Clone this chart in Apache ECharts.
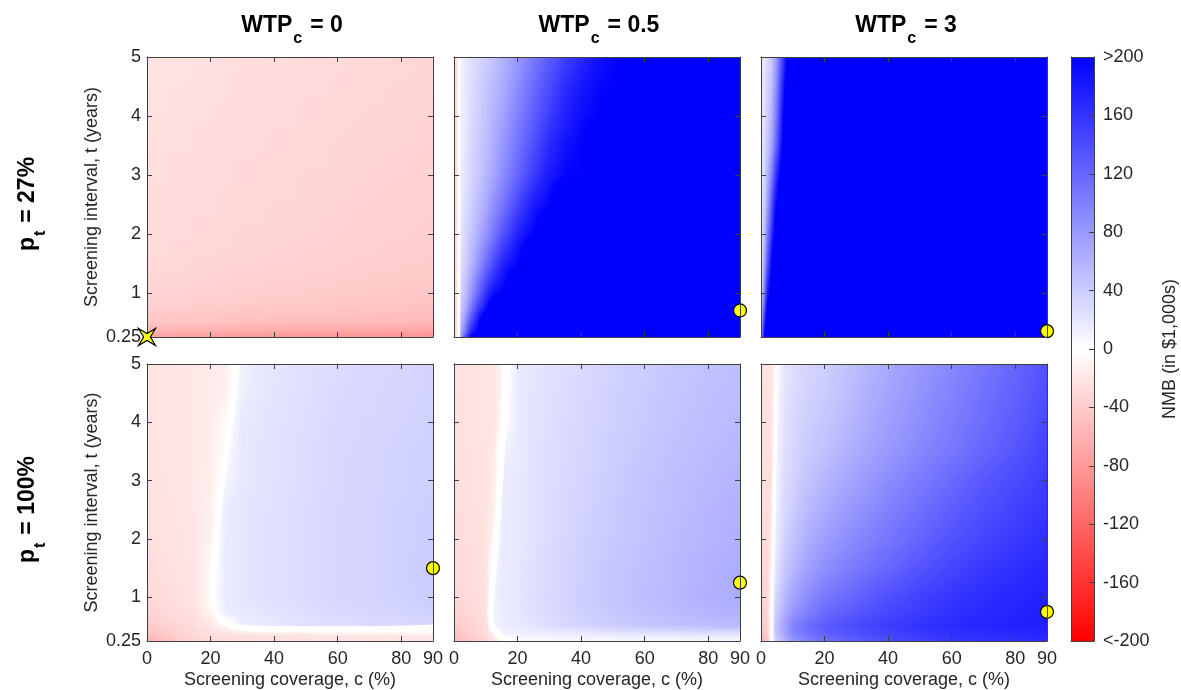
<!DOCTYPE html>
<html>
<head>
<meta charset="utf-8">
<script src="https://cdn.jsdelivr.net/npm/echarts@6/dist/echarts.min.js"></script>
<style>html,body{margin:0;padding:0;background:#fff}#chart{width:1181px;height:690px}</style>
</head>
<body>
<div id="chart"></div>
<script>
// ---------------- data ----------------
const coverage = [0,1,2,3,4,5,7.5,10,12.5,15,20,25,30,35,40,45,50,55,60,70,80,90];   // c (%)
const interval = [0.25,0.35,0.5,0.75,1,1.5,2,2.5,3,3.5,4,4.5,5];                    // t (years)
const xTicks = [0,20,40,60,80,90];
const yTicks = [0.25,1,2,3,4,5];
const colorbarMin = -200, colorbarMax = 200, colorbarStep = 40;
const nmbColors = ['#ff0000','#ffffff','#0000ff'];
const wtpValues = ['0','0.5','3'];
const ptValues = ['27%','100%'];

// NMB (in $1,000s) sampled at (coverage, interval); rows follow `interval`, columns follow `coverage`; 250 = ">200"
const nmbP27W0 = [
 [-74,-74,-75,-75,-75,-76,-76,-77,-77,-78,-79,-80,-81,-82,-83,-84,-85,-85,-86,-87,-88,-89],
 [-58,-58,-58,-59,-59,-59,-60,-60,-61,-61,-62,-63,-64,-65,-66,-66,-67,-67,-68,-69,-70,-71],
 [-45,-45,-45,-45,-46,-46,-46,-47,-47,-47,-48,-49,-50,-50,-51,-52,-52,-53,-53,-54,-55,-56],
 [-38,-38,-38,-38,-38,-38,-39,-39,-39,-40,-40,-41,-42,-42,-43,-43,-44,-44,-45,-46,-47,-48],
 [-34,-34,-34,-34,-34,-34,-35,-35,-35,-36,-36,-37,-38,-38,-39,-39,-40,-40,-41,-42,-43,-44],
 [-30,-30,-30,-30,-30,-30,-31,-31,-31,-32,-32,-33,-34,-34,-35,-35,-36,-36,-37,-38,-39,-40],
 [-28,-28,-28,-28,-28,-28,-29,-29,-29,-30,-30,-31,-32,-32,-33,-33,-34,-34,-35,-36,-37,-38],
 [-27,-27,-27,-27,-27,-27,-28,-28,-28,-29,-29,-30,-31,-31,-32,-32,-33,-33,-34,-35,-36,-37],
 [-26,-26,-26,-26,-26,-26,-27,-27,-27,-28,-28,-29,-30,-30,-31,-31,-32,-32,-33,-34,-35,-36],
 [-25,-25,-25,-25,-25,-25,-26,-26,-26,-27,-27,-28,-29,-29,-30,-30,-31,-31,-32,-33,-34,-35],
 [-24,-24,-24,-24,-24,-24,-25,-25,-25,-26,-26,-27,-28,-28,-29,-29,-30,-30,-31,-32,-33,-34],
 [-23,-23,-23,-23,-23,-23,-24,-24,-24,-25,-25,-26,-27,-27,-28,-28,-29,-29,-30,-31,-32,-33],
 [-22,-22,-22,-22,-22,-22,-23,-23,-23,-24,-24,-25,-26,-26,-27,-27,-28,-28,-29,-30,-31,-32]
];
const nmbP27W05 = [
 [-30,-25,74,118,160,188,250,250,250,250,250,250,250,250,250,250,250,250,250,250,250,250],
 [-30,-25,60,92,125,160,200,250,250,250,250,250,250,250,250,250,250,250,250,250,250,250],
 [-30,-25,49,74,103,132,188,250,250,250,250,250,250,250,250,250,250,250,250,250,250,250],
 [-30,-25,40,56,74,97,150,188,250,250,250,250,250,250,250,250,250,250,250,250,250,250],
 [-30,-25,32,45,60,74,118,160,188,200,250,250,250,250,250,250,250,250,250,250,250,250],
 [-30,-25,24,33,43,53,82,113,142,170,199,250,250,250,250,250,250,250,250,250,250,250],
 [-30,-25,18,27,35,42,62,84,108,132,175,198,250,250,250,250,250,250,250,250,250,250],
 [-30,-25,15,23,30,35,51,66,87,105,145,178,197,250,250,250,250,250,250,250,250,250],
 [-30,-25,12,19,25,31,43,56,71,88,121,152,180,196,200,250,250,250,250,250,250,250],
 [-30,-25,12,17,23,29,40,51,64,79,110,137,167,186,198,250,250,250,250,250,250,250],
 [-30,-25,11,16,21,27,37,47,60,71,100,125,152,175,190,199,250,250,250,250,250,250],
 [-30,-25,10,15,20,25,35,45,55,64,90,115,140,165,182,194,200,250,250,250,250,250],
 [-30,-25,10,14,19,22,30,38,48,58,80,104,128,150,170,186,195,200,250,250,250,250]
];
const nmbP27W3 = [
 [60,195,250,250,250,250,250,250,250,250,250,250,250,250,250,250,250,250,250,250,250,250],
 [55,175,250,250,250,250,250,250,250,250,250,250,250,250,250,250,250,250,250,250,250,250],
 [50,150,230,250,250,250,250,250,250,250,250,250,250,250,250,250,250,250,250,250,250,250],
 [40,120,200,250,250,250,250,250,250,250,250,250,250,250,250,250,250,250,250,250,250,250],
 [32,90,170,220,250,250,250,250,250,250,250,250,250,250,250,250,250,250,250,250,250,250],
 [25,60,125,185,250,250,250,250,250,250,250,250,250,250,250,250,250,250,250,250,250,250],
 [22,45,95,150,195,250,250,250,250,250,250,250,250,250,250,250,250,250,250,250,250,250],
 [20,35,70,120,170,200,250,250,250,250,250,250,250,250,250,250,250,250,250,250,250,250],
 [19,30,55,90,135,170,250,250,250,250,250,250,250,250,250,250,250,250,250,250,250,250],
 [18,27,43,65,97,130,230,250,250,250,250,250,250,250,250,250,250,250,250,250,250,250],
 [17,24,37,55,82,112,220,250,250,250,250,250,250,250,250,250,250,250,250,250,250,250],
 [16,22,32,47,70,98,200,250,250,250,250,250,250,250,250,250,250,250,250,250,250,250],
 [15,20,28,40,60,85,175,250,250,250,250,250,250,250,250,250,250,250,250,250,250,250]
];
const nmbP100W0 = [
 [-60,-58,-56,-54,-52,-50,-46,-42,-38,-34,-30,-28,-27,-26,-25,-24,-24,-23,-23,-22,-22,-21],
 [-50,-49,-48,-46,-45,-43,-40,-36,-33,-30,-27,-25,-24,-23,-22,-22,-21,-21,-20,-20,-19,-18],
 [-42,-41,-40,-39,-38,-37,-34,-31,-29,-27,-20,-8,14,16,18,20,22,24,25,27,29,31],
 [-34,-34,-33,-32,-31,-30,-28,-27,-25,-23,-8,15,18,20,22,24,26,28,30,32,34,37],
 [-30,-30,-29,-28,-28,-27,-26,-25,-24,-22,-3,17,20,22,24,26,28,30,32,34,36,39],
 [-27,-27,-26,-26,-25,-25,-24,-23,-22,-21,-6,17,20,22,24,26,28,30,32,34,37,40],
 [-25,-25,-24,-24,-24,-23,-23,-22,-21,-20,-10,17,20,22,24,26,28,30,32,34,36,39],
 [-24,-24,-23,-23,-23,-22,-22,-21,-20,-19,-12,17,20,22,24,26,28,30,32,34,36,38],
 [-23,-23,-23,-22,-22,-22,-21,-21,-20,-19,-14,8,19,21,23,25,27,29,31,33,35,37],
 [-22,-22,-22,-22,-21,-21,-21,-20,-19,-18,-15,1,19,21,23,25,27,29,31,33,35,37],
 [-22,-22,-22,-21,-21,-21,-20,-20,-19,-18,-15,-4,18,20,22,24,26,28,30,32,34,36],
 [-21,-21,-21,-21,-21,-20,-20,-19,-19,-18,-16,-12,12,19,21,23,25,27,29,31,33,35],
 [-21,-21,-21,-21,-20,-20,-20,-19,-19,-18,-16,-14,10,18,20,22,24,26,28,30,32,34]
];
const nmbP100W05 = [
 [-55,-53,-51,-49,-47,-45,-40,-32,-22,-10,3,4,4,5,5,5,5,5,5,5,5,5],
 [-48,-47,-45,-43,-41,-39,-34,-28,-18,8,10,11,12,13,14,15,16,17,18,19,20,20],
 [-42,-41,-40,-38,-37,-35,-31,-26,8,14,17,22,26,30,33,36,39,42,44,48,51,54],
 [-36,-35,-34,-33,-32,-31,-28,-24,10,15,19,24,29,33,37,40,43,46,49,54,58,62],
 [-32,-31,-31,-30,-29,-28,-26,-23,12,16,20,25,30,34,38,42,45,48,51,56,61,65],
 [-29,-29,-28,-28,-27,-27,-25,-23,10,16,19,24,29,33,37,41,44,47,50,55,60,64],
 [-28,-28,-27,-27,-26,-26,-24,-22,-8,15,18,23,28,32,36,39,42,45,48,54,58,62],
 [-27,-27,-26,-26,-25,-25,-24,-22,-12,15,18,23,27,31,34,38,41,44,47,52,57,61],
 [-26,-26,-25,-25,-25,-24,-23,-22,-16,14,18,22,26,30,33,36,40,43,46,51,55,59],
 [-25,-25,-25,-24,-24,-24,-23,-22,-18,12,17,22,26,29,32,35,38,41,44,49,53,57],
 [-25,-25,-24,-24,-24,-23,-22,-21,-20,-6,17,21,25,28,31,34,37,40,42,47,51,55],
 [-24,-24,-24,-23,-23,-23,-22,-21,-20,-8,17,21,24,27,30,33,36,39,41,46,50,53],
 [-24,-24,-23,-23,-23,-22,-22,-21,-20,-8,16,20,23,26,29,32,35,37,39,44,48,51]
];
const nmbP100W3 = [
 [-58,-55,-50,-12,25,40,60,82,92,100,112,120,127,133,140,145,150,153,156,160,162,165],
 [-48,-46,-42,-10,32,48,70,92,102,110,122,129,135,141,146,151,155,158,161,165,168,170],
 [-42,-41,-38,-10,35,51,75,98,108,116,129,136,142,148,153,157,161,164,167,171,174,176],
 [-38,-37,-35,-10,28,43,64,82,93,102,116,124,131,138,144,149,154,158,162,168,172,175],
 [-35,-34,-33,-10,20,35,55,71,82,91,106,114,122,130,137,143,149,154,158,165,170,174],
 [-32,-31,-30,-15,10,24,44,56,66,75,88,97,105,113,120,127,134,140,146,156,163,169],
 [-30,-29,-28,-20,2,18,36,47,56,64,76,85,93,101,108,115,122,129,135,146,155,163],
 [-29,-28,-27,-24,-1,15,31,40,48,55,66,75,83,91,99,106,113,120,127,138,149,158],
 [-28,-27,-26,-25,-3,12,28,34,42,48,58,66,74,82,90,97,104,111,118,131,142,153],
 [-27,-26,-25,-24,-5,10,26,32,38,42,49,57,65,73,80,87,94,101,107,120,133,148],
 [-26,-25,-24,-23,-8,8,24,30,35,39,45,52,60,68,75,82,89,96,102,115,128,143],
 [-26,-25,-24,-23,-10,6,22,28,32,36,41,48,56,64,71,78,85,92,98,111,124,139],
 [-25,-24,-23,-22,-12,4,20,26,30,33,38,45,52,60,67,74,81,88,94,107,120,135]
];

// zero-NMB contours (c, t)
const contourP27W05 = [[1.6,5],[1.6,2.5],[1.5,0.25]];
const contourP100W0 = [[28.2,5],[26.2,4],[23.6,3],[21.6,2],[20.8,1.5],[20.6,1.1],[21,0.85],[22.5,0.65],[25,0.54],[29,0.48],[35,0.46],[50,0.45],[65,0.45],[80,0.46],[90,0.48]];
const contourP100W05 = [[16.3,5],[15.6,4],[14.5,3],[13.2,2],[12.5,1.5],[11.8,1],[11.5,0.75],[11.8,0.55],[12.8,0.42],[14.5,0.33],[17,0.28],[20,0.26]];
const contourP100W3 = [[5,5],[4.4,3.5],[3.8,2],[3.4,1],[3.3,0.25]];

// optimal strategy markers
const optimumC = [0,90,90,90,90,90];
const optimumT = [0.25,0.7,0.35,1.5,1.25,0.75];

// ---------------- layout / styles ----------------
const FONT = 'Liberation Sans, Arial, Helvetica, sans-serif';
const AX = '#404040', TXT = '#262626';
const gridLeft = [147,454,761], gridTop = [57,364], gridW = 286, gridH = [280,277];
const panels = [
  {grid: nmbP27W0,  contour: null,          lw: 0},
  {grid: nmbP27W05, contour: contourP27W05, lw: 3},
  {grid: nmbP27W3,  contour: null,          lw: 0},
  {grid: nmbP100W0, contour: contourP100W0, lw: 6},
  {grid: nmbP100W05,contour: contourP100W05,lw: 6},
  {grid: nmbP100W3, contour: contourP100W3, lw: 3.5}
];

function nmbColor(v){
  const n = Math.max(0, Math.min(1, (v - colorbarMin) / (colorbarMax - colorbarMin)));
  return echarts.color.lerp(n, nmbColors);
}
// gradient stops for a linear run of values vl -> vr (colour map knots at -200, 0, 200)
function stopsFor(vl, vr){
  const fr = [0, 1];
  [colorbarMin, 0, colorbarMax].forEach(k => {
    if ((vl - k) * (vr - k) < 0) fr.push((k - vl) / (vr - vl));
  });
  fr.sort((a,b)=>a-b);
  return fr.map(f => ({offset:f, color: nmbColor(vl + (vr - vl) * f)}));
}

function cells(g){ const out=[]; g.forEach((row,j)=>row.forEach((v,i)=>out.push([coverage[i], interval[j], v, i, j]))); return out; }

// shaded patch between neighbouring samples (like shading 'interp')
function makeRenderer(g){
  return function(params, api){
    const i = api.value(3), j = api.value(4);
    if (i >= coverage.length - 1 || j >= interval.length - 1) return null;
    const a = api.coord([coverage[i], interval[j+1]]);
    const b = api.coord([coverage[i+1], interval[j]]);
    const x0 = Math.round(a[0]), x1 = Math.round(b[0]);
    const y0 = Math.round(a[1]), y1 = Math.round(b[1]);
    const H = y1 - y0, W = x1 - x0;
    if (H <= 0 || W <= 0) return null;
    const v00 = api.value(2), v10 = g[j][i+1], v01 = g[j+1][i], v11 = g[j+1][i+1];
    const n = Math.max(1, Math.ceil(H / 2));
    const children = [];
    for (let s = 0; s < n; s++) {
      const sy0 = y0 + Math.round(H * s / n), sy1 = y0 + Math.round(H * (s + 1) / n);
      if (sy1 <= sy0) continue;
      const f = 1 - ((sy0 + sy1) / 2 - y0) / H;
      const vl = v00 + (v01 - v00) * f, vr = v10 + (v11 - v10) * f;
      children.push({type:'rect', shape:{x:x0, y:sy0, width:W, height:sy1 - sy0},
        style:{fill: new echarts.graphic.LinearGradient(0, 0, 1, 0, stopsFor(vl, vr))}, silent:true});
    }
    return {type:'group', children};
  };
}

const grids = [], xAxes = [], yAxes = [], series = [];
const lineStyle = {color: AX, width: 1};
for (let k = 0; k < 6; k++) {
  const r = Math.floor(k/3), col = k % 3;
  grids.push({left: gridLeft[col], top: gridTop[r], width: gridW, height: gridH[r]});
  xAxes.push({gridIndex:k, type:'value', min:0, max:90, position:'bottom', z:3,
    axisLine:{show:true, onZero:false, lineStyle},
    axisTick:{show:true, inside:true, length:5, customValues:xTicks, lineStyle},
    axisLabel:{show: r===1, customValues:xTicks, fontSize:18, color:TXT, margin:9, fontFamily:FONT},
    splitLine:{show:false},
    name: r===1 ? 'Screening coverage, c (%)' : '', nameLocation:'middle', nameGap:30,
    nameTextStyle:{fontSize:18, color:TXT, fontFamily:FONT}});
  xAxes.push({gridIndex:k, type:'value', min:0, max:90, position:'top', z:3,
    axisLine:{show:true, onZero:false, lineStyle},
    axisTick:{show:true, inside:true, length:5, customValues:xTicks, lineStyle},
    axisLabel:{show:false}, splitLine:{show:false}});
  yAxes.push({gridIndex:k, type:'value', min:0.25, max:5, position:'left', z:3,
    axisLine:{show:true, onZero:false, lineStyle},
    axisTick:{show:true, inside:true, length:5, customValues:yTicks, lineStyle},
    axisLabel:{show: col===0, customValues:yTicks, fontSize:18, color:TXT, margin:6, fontFamily:FONT},
    splitLine:{show:false},
    name: col===0 ? 'Screening interval, t (years)' : '', nameLocation:'middle', nameGap:46,
    nameTextStyle:{fontSize:18, color:TXT, fontFamily:FONT}});
  yAxes.push({gridIndex:k, type:'value', min:0.25, max:5, position:'right', z:6,
    axisLine:{show:true, onZero:false, lineStyle},
    axisTick:{show:true, inside:true, length:5, customValues:yTicks, lineStyle},
    axisLabel:{show:false}, splitLine:{show:false}});
}
// colorbar grid
grids.push({left:1071, top:57, width:23, height:584});
xAxes.push({gridIndex:6, type:'value', min:0, max:1, position:'bottom', z:3, axisLine:{show:true, onZero:false, lineStyle}, axisTick:{show:false}, axisLabel:{show:false}, splitLine:{show:false}});
xAxes.push({gridIndex:6, type:'value', min:0, max:1, position:'top', z:3, axisLine:{show:true, onZero:false, lineStyle}, axisTick:{show:false}, axisLabel:{show:false}, splitLine:{show:false}});
yAxes.push({gridIndex:6, type:'value', min:colorbarMin, max:colorbarMax, interval:colorbarStep, position:'right', z:3,
  axisLine:{show:true, onZero:false, lineStyle},
  axisTick:{show:true, inside:true, length:5, lineStyle},
  axisLabel:{fontSize:18, color:TXT, margin:9, fontFamily:FONT,
    formatter: v => v === colorbarMax ? '>' + colorbarMax : (v === colorbarMin ? '<' + colorbarMin : String(v))},
  splitLine:{show:false},
  name:'NMB (in $1,000s)', nameLocation:'middle', nameRotate:90, nameGap:67,
  nameTextStyle:{fontSize:18, color:TXT, fontFamily:FONT}});
yAxes.push({gridIndex:6, type:'value', min:colorbarMin, max:colorbarMax, position:'left', z:3, axisLine:{show:true, onZero:false, lineStyle}, axisTick:{show:false}, axisLabel:{show:false}, splitLine:{show:false}});

// heatmaps
for (let k = 0; k < 6; k++) {
  series.push({type:'custom', xAxisIndex:2*k, yAxisIndex:2*k, z:1, silent:true,
    dimensions:['c','t','nmb','i','j'], encode:{x:0, y:1},
    renderItem: makeRenderer(panels[k].grid), data: cells(panels[k].grid)});
}
// contours
for (let k = 0; k < 6; k++) {
  if (!panels[k].contour) continue;
  series.push({type:'line', xAxisIndex:2*k, yAxisIndex:2*k, z:2, silent:true, smooth:0.35,
    symbol:'none', data: panels[k].contour, lineStyle:{color:'#ffffff', width: panels[k].lw}});
}
// optimum markers
const starPath = 'path://M-10,-10 L0,-4 L10,-10 L4,0 L10,10 L0,4 L-10,10 L-4,0 Z';
for (let k = 0; k < 6; k++) {
  series.push({type:'scatter', xAxisIndex:2*k, yAxisIndex:2*k, z:4, clip:false, silent:true,
    symbol: k===0 ? starPath : 'circle', symbolSize: k===0 ? 17 : 13,
    itemStyle:{color:'#ffff00', borderColor:'#000', borderWidth:1.2, opacity:1},
    data:[[optimumC[k], optimumT[k]]]});
}
// colorbar
series.push({type:'custom', xAxisIndex:12, yAxisIndex:12, z:1, silent:true, data:[[0, colorbarMin]],
  renderItem: function(params, api){
    const a = api.coord([0, colorbarMax]), b = api.coord([1, colorbarMin]);
    return {type:'rect', shape:{x:a[0], y:a[1], width:b[0]-a[0], height:b[1]-a[1]},
      style:{fill: new echarts.graphic.LinearGradient(0,0,0,1,[
        {offset:0, color:nmbColors[2]}, {offset:0.5, color:nmbColors[1]}, {offset:1, color:nmbColors[0]}])}};
  }});

// titles
const graphics = [];
const richTitle = {
  b:{fontSize:23, fontWeight:'bold', fontFamily:FONT, fill:'#000', lineHeight:26, verticalAlign:'top'},
  s:{fontSize:16, fontWeight:'bold', fontFamily:FONT, fill:'#000', lineHeight:16, padding:[17,8,0,1], verticalAlign:'top'}
};
wtpValues.forEach((w, col) => {
  graphics.push({type:'text', x: gridLeft[col] + gridW/2 + 2, y: 14, silent:true,
    style:{text:'{b|WTP}{s|c}{b|= ' + w + '}', align:'center', verticalAlign:'top', rich: richTitle}});
});
ptValues.forEach((p, r) => {
  graphics.push({type:'text', x: 29, y: gridTop[r] + gridH[r]/2 + 7, rotation: Math.PI/2, silent:true,
    style:{text:'{b|p}{s|t}{b|= ' + p + '}', align:'center', verticalAlign:'middle', rich: richTitle}});
});

const chart = echarts.init(document.getElementById('chart'), null, {renderer:'canvas'});
chart.setOption({
  animation:false,
  backgroundColor:'#ffffff',
  grid: grids, xAxis: xAxes, yAxis: yAxes,
  visualMap:{type:'continuous', show:false, min:colorbarMin, max:colorbarMax, dimension:2,
    seriesIndex:[0,1,2,3,4,5], inRange:{color: nmbColors}},
  graphic: graphics,
  series: series
});
</script>
</body>
</html>
